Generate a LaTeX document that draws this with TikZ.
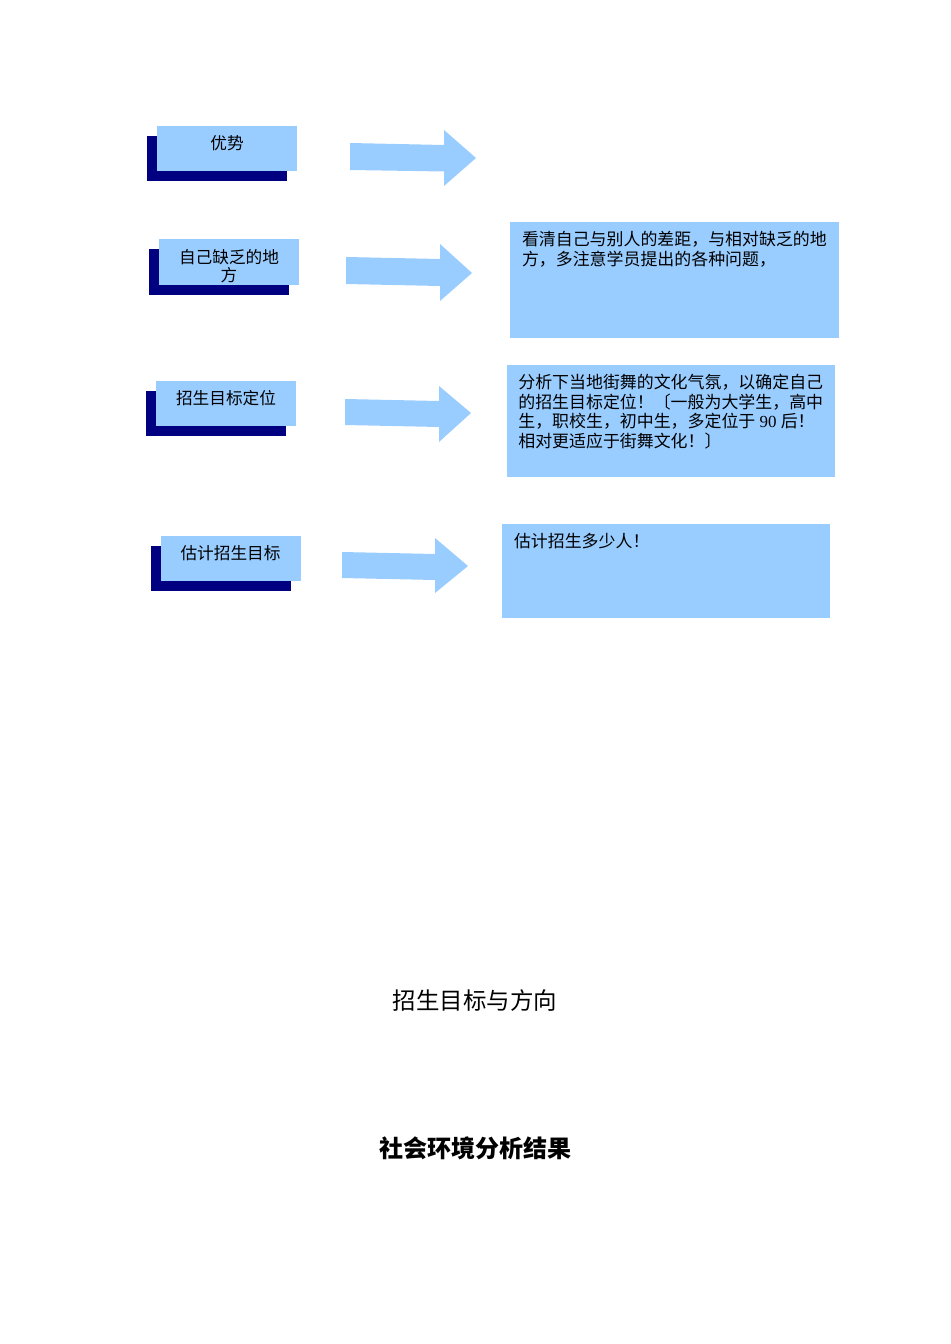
\documentclass[tikz,border=0pt]{standalone}
\usepackage{fontspec}
\newfontfamily\cjk{Noto Sans CJK SC}
\newfontfamily\latin{Liberation Serif}
\usetikzlibrary{positioning, shadows}
\definecolor{boxblue}{HTML}{99CCFF}
\definecolor{shadowblue}{HTML}{000080}

\tikzset{
    leftbox/.style={fill=boxblue, minimum width=105pt, minimum height=34pt, inner sep=0pt,
        drop shadow={shadow xshift=-7.5pt, shadow yshift=-7.5pt, fill=shadowblue, opacity=1}},
    lefttext/.style={inner sep=0pt, align=center, font=\cjk\fontsize{12.5pt}{13.5pt}\selectfont},
    rightbox/.style={fill=boxblue, inner sep=0pt},
    righttext/.style={inner sep=0pt, align=left, font=\cjk\fontsize{12.7pt}{14.6pt}\selectfont},
    bigarrow/.style={fill=boxblue},
    heading/.style={inner sep=0pt, font=\cjk\fontsize{17.6pt}{20pt}\selectfont}
}

\begin{document}
\begin{tikzpicture}[x=0.75pt, y=-0.75pt]
        \useasboundingbox (0,0) rectangle (950,1344);
        % left column
        \node[leftbox] (adv) at (227,148.5) {};
        \node[lefttext, below=7.3pt of adv.north] (advtext) {优势};
        \node[leftbox] (lack) at (229,262) {};
        \node[lefttext, below=7.3pt of lack.north] (lacktext) {自己缺乏的地\\方};
        \node[leftbox] (aim) at (226,403.5) {};
        \node[lefttext, below=7.3pt of aim.north] (aimtext) {招生目标定位};
        \node[leftbox] (est) at (230.5,558.5) {};
        \node[lefttext, below=7.3pt of est.north] (esttext) {估计招生目标};
        % block arrows
        \fill[bigarrow] (350,143) -- (444,145) -- (444,130) -- (476,158) -- (444,186) -- (444,171.5) -- (350,170) -- cycle;
        \fill[bigarrow] (346,257) -- (440,259) -- (440,244) -- (472,273) -- (440,301) -- (440,286) -- (346,284) -- cycle;
        \fill[bigarrow] (345,399) -- (439,401) -- (439,386) -- (471,413) -- (439,442) -- (439,427) -- (345,425) -- cycle;
        \fill[bigarrow] (342,552) -- (435,554) -- (435,538) -- (468,566) -- (435,593) -- (435,580) -- (342,578) -- cycle;
        % right column
        \node[rightbox, minimum width=246.75pt, minimum height=87pt] (gap) at (674.5,280) {};
        \node[righttext, below right=7.2pt and 9pt of gap.north west] (gaptext)
            {看清自己与别人的差距，与相对缺乏的地\\方，多注意学员提出的各种问题，};
        \node[rightbox, minimum width=246pt, minimum height=84pt] (pos) at (671,421) {};
        \node[righttext, below right=7.2pt and 8.5pt of pos.north west] (postext)
            {分析下当地街舞的文化气氛，以确定自己\\的招生目标定位！〔一般为大学生，高中\\生，职校生，初中生，多定位于{\latin\ 90 }后！\\相对更适应于街舞文化！〕};
        \node[rightbox, minimum width=246pt, minimum height=70.5pt] (num) at (666,571) {};
        \node[righttext, below right=7.2pt and 9pt of num.north west] (numtext) {估计招生多少人！};
        % headings
        \node[heading] (goal) at (475,1001) {招生目标与方向};
        \node[heading, font=\cjk\bfseries\fontsize{18pt}{20pt}\selectfont] (env) at (475,1148) {社会环境分析结果};
\end{tikzpicture}
\end{document}
